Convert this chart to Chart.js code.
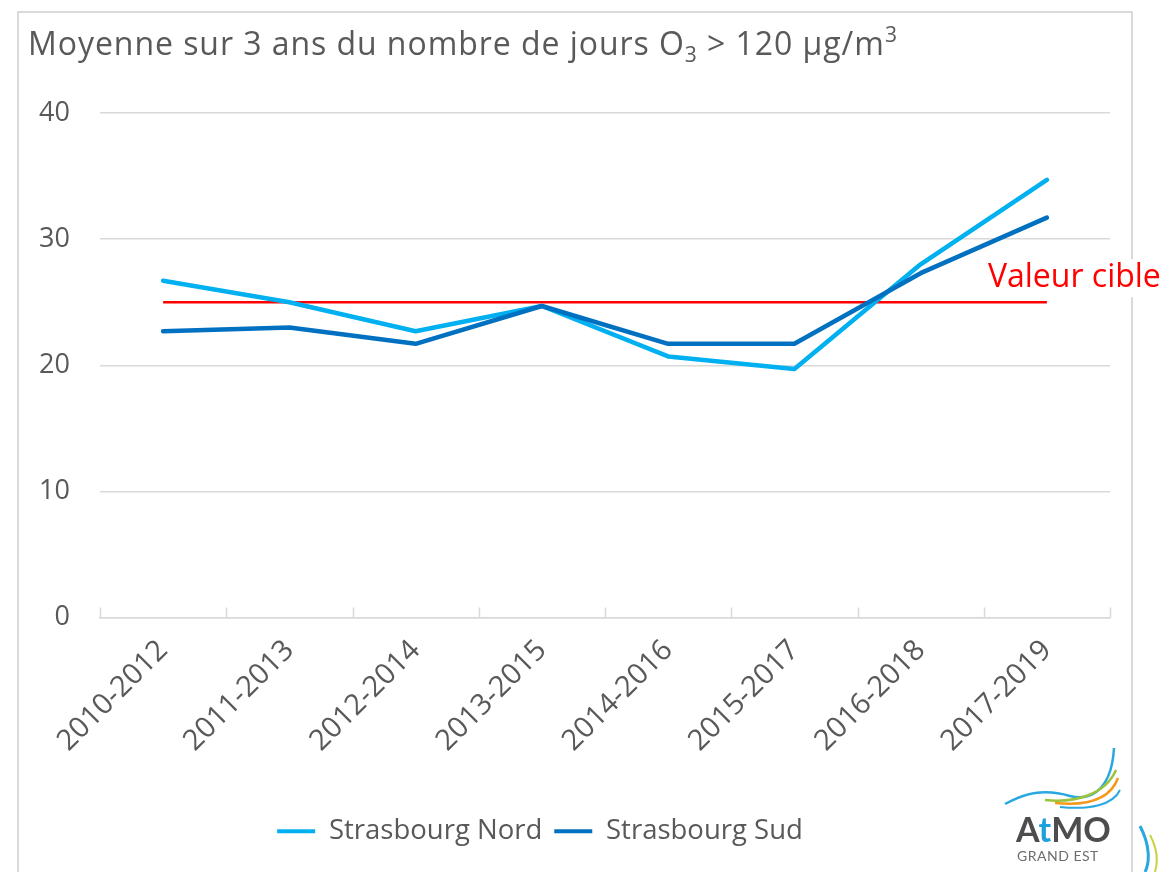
<!DOCTYPE html>
<html>
<head>
<meta charset="utf-8">
<script src="https://cdn.jsdelivr.net/npm/chart.js@4.4.1/dist/chart.umd.min.js"></script>
<style>
  html, body { margin: 0; padding: 0; background: #ffffff; }
  #wrap { position: relative; width: 1169px; height: 872px; overflow: hidden; }
  #frame { position: absolute; left: 17px; top: 11px; width: 1116px; height: 920px; border: 2px solid #d9d9d9; box-sizing: border-box; }
  #c { position: absolute; left: 0; top: 0; }
  #logo { position: absolute; left: 0; top: 0; }
  #title { position: absolute; left: 28px; top: 23px; font-family: 'Open Sans', sans-serif; font-size: 32px; letter-spacing: 0.95px; line-height: 40px; color: #595959; white-space: nowrap; }
  #title sub { font-size: 21px; vertical-align: -7px; line-height: 0; }
  #title sup { font-size: 21px; vertical-align: 13px; line-height: 0; }
</style>
</head>
<body>
<div id="wrap">
  <div id="frame"></div>
  <canvas id="c" width="1169" height="872"></canvas>
  <div id="title">Moyenne sur 3 ans du nombre de jours O<sub>3</sub> &gt; 120 µg/m<sup>3</sup></div>
  <svg id="logo" width="1169" height="872" viewBox="0 0 1169 872">
    <path d="M1005 804 C1030 790 1050 790 1070 796 C1095 802 1112 785 1114 748" fill="none" stroke="#29a8e0" stroke-width="2.5"/>
    <path d="M1045 800 C1075 803 1105 795 1116 770" fill="none" stroke="#9bc43c" stroke-width="2.5"/>
    <path d="M1055 803 C1085 806 1110 800 1118 778" fill="none" stroke="#f39a1e" stroke-width="2.5"/>
    <path d="M1060 807 C1090 810 1113 805 1120 790" fill="none" stroke="#29a8e0" stroke-width="2"/>
    <path d="M1140 826 C1150 845 1150 862 1145 872" fill="none" stroke="#29a8e0" stroke-width="3"/>
    <path d="M1150 835 C1158 850 1158 862 1155 872" fill="none" stroke="#c8d23c" stroke-width="2"/>
    <text x="1016" y="842" font-family="Lato, sans-serif" font-weight="bold" font-size="34" fill="#4d4d4d">A<tspan fill="#1ea0dc">t</tspan>MO</text>
    <text x="1017" y="861" font-family="Lato, sans-serif" font-size="14" fill="#6d6d6d" letter-spacing="0.5">GRAND EST</text>
  </svg>
</div>
<script>
const categories = ["2010-2012","2011-2013","2012-2014","2013-2015","2014-2016","2015-2017","2016-2018","2017-2019"];
const strasbourgNord = [26.7, 25.0, 22.7, 24.7, 20.7, 19.7, 28.0, 34.7];
const strasbourgSud  = [22.7, 23.0, 21.7, 24.7, 21.7, 21.7, 27.3, 31.7];
const valeurCible    = [25, 25, 25, 25, 25, 25, 25, 25];
const yTicks = [0, 10, 20, 30, 40];
const cibleLabel = "Valeur cible";

const FONT = "'Open Sans', sans-serif";
const GREY = "#595959";

const extras = {
  id: 'extras',
  afterLayout(chart) {
    if (chart.legend) { chart.legend.left -= 29; chart.legend.right -= 29; }
  },
  afterDatasetsDraw(chart) {
    const ctx = chart.ctx;
    const x = chart.scales.x, y = chart.scales.y;
    const half = (x.getPixelForValue(1) - x.getPixelForValue(0)) / 2;
    ctx.save();
    ctx.strokeStyle = "#d9d9d9";
    ctx.lineWidth = 1.5;
    for (let i = 0; i <= categories.length; i++) {
      const px = Math.round(x.getPixelForValue(0) - half + i * 2 * half) + 0.5;
      ctx.beginPath();
      ctx.moveTo(px, y.bottom - 10);
      ctx.lineTo(px, y.bottom);
      ctx.stroke();
    }
    ctx.font = "32px " + FONT;
    const tx = x.getPixelForValue(categories.length - 1) - 59;
    const ty = y.getPixelForValue(valeurCible[valeurCible.length - 1]) - 24;
    const w = ctx.measureText(cibleLabel).width;
    ctx.fillStyle = "#ffffff";
    ctx.fillRect(tx - 2, ty - 19, w + 4, 38);
    ctx.fillStyle = "#ff0000";
    ctx.textBaseline = "middle";
    ctx.textAlign = "left";
    ctx.fillText(cibleLabel, tx, ty);
    ctx.restore();
  }
};

new Chart(document.getElementById('c'), {
  type: 'line',
  data: {
    labels: categories,
    datasets: [
      { label: "Strasbourg Nord", data: strasbourgNord, borderColor: "#00b0f0", backgroundColor: "#00b0f0", borderWidth: 4.5, pointRadius: 0, tension: 0, order: 2, borderCapStyle: 'round', borderJoinStyle: 'round' },
      { label: "Strasbourg Sud", data: strasbourgSud, borderColor: "#0070c0", backgroundColor: "#0070c0", borderWidth: 4.5, pointRadius: 0, tension: 0, order: 1, borderCapStyle: 'round', borderJoinStyle: 'round' },
      { label: "cible", data: valeurCible, borderColor: "#ff0000", backgroundColor: "#ff0000", borderWidth: 2.5, pointRadius: 0, tension: 0, order: 3 }
    ]
  },
  options: {
    responsive: false,
    animation: false,
    events: [],
    layout: { padding: { left: 28, right: 59, top: 113, bottom: 17 } },
    plugins: {
      tooltip: { enabled: false },
      title: { display: false },
      legend: {
        position: 'bottom',
        labels: {
          color: GREY, font: { family: FONT, size: 27.5 },
          boxWidth: 38, boxHeight: 4, padding: 12,
          filter: (item) => item.datasetIndex !== 2,
          sort: (a, b) => a.datasetIndex - b.datasetIndex,
          generateLabels: (chart) => {
            const items = Chart.defaults.plugins.legend.labels.generateLabels(chart);
            items.forEach(it => { it.lineWidth = 0; it.fillStyle = it.strokeStyle; });
            return items;
          }
        }
      }
    },
    scales: {
      x: {
        offset: true,
        grid: { display: false },
        border: { display: true, color: "#d9d9d9", width: 1.5 },
        ticks: { color: GREY, font: { family: FONT, size: 29 }, minRotation: 45, maxRotation: 45, padding: 8 },
        afterFit: (s) => { s.height = 188; }
      },
      y: {
        min: 0, max: 40,
        afterBuildTicks: (s) => { s.ticks = yTicks.map(v => ({ value: v })); },
        grid: { color: "#d9d9d9", lineWidth: 1.5, drawTicks: false },
        border: { display: false },
        ticks: { color: GREY, font: { family: FONT, size: 27 }, padding: 30 },
        afterFit: (s) => { s.width = 72; }
      }
    }
  },
  plugins: [extras]
});
</script>
</body>
</html>
